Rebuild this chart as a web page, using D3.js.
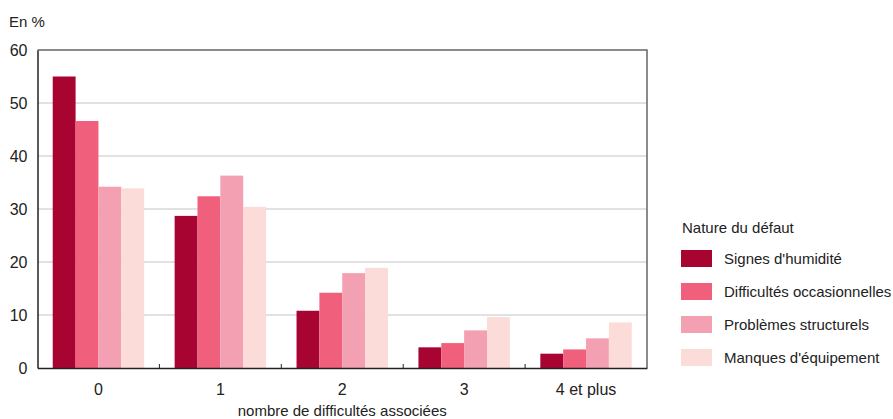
<!DOCTYPE html>
<html>
<head>
    <meta charset="utf-8">
    <title>Nature du défaut</title>
    <script src="https://cdn.jsdelivr.net/npm/d3@7"></script>
    <style>
        body { margin: 0; background: #fff; }
        svg text { font-family: "Liberation Sans", Arial, sans-serif; fill: #222; }
    </style>
</head>
<body>
    <div id="chart"></div>
    <script>
        const categories = ["0", "1", "2", "3", "4 et plus"];
        const seriesNames = ["Signes d'humidité", "Difficultés occasionnelles", "Problèmes structurels", "Manques d'équipement"];
        const humidite = [55.0, 28.7, 10.8, 3.9, 2.7];
        const occasionnelles = [46.6, 32.4, 14.2, 4.7, 3.5];
        const structurels = [34.2, 36.3, 17.9, 7.1, 5.6];
        const equipement = [33.9, 30.4, 18.9, 9.6, 8.6];
        const yTicks = [0, 10, 20, 30, 40, 50, 60];
        const colors = ["#a80432", "#f05f7c", "#f4a0b3", "#fbdcd9"];

        const seriesValues = [humidite, occasionnelles, structurels, equipement];

        const W = 893, H = 419;
        const margin = { top: 50, left: 37.5, right: 246, bottom: 51 };
        const width = W - margin.left - margin.right;
        const height = H - margin.top - margin.bottom;

        const svg = d3.select("#chart").append("svg")
            .attr("width", W)
            .attr("height", H);

        const g = svg.append("g")
            .attr("transform", `translate(${margin.left},${margin.top})`);

        const x = d3.scaleBand()
            .domain(categories)
            .range([0, width])
            .paddingInner(0.25)
            .paddingOuter(0.125);

        const x1 = d3.scaleBand()
            .domain(seriesNames)
            .range([0, x.bandwidth()]);

        const y = d3.scaleLinear()
            .domain([0, 60])
            .range([height, 0]);

        // gridlines
        g.append("g")
            .selectAll("line")
            .data(yTicks.filter(t => t > 0 && t < 60))
            .enter().append("line")
            .attr("x1", 0)
            .attr("x2", width)
            .attr("y1", d => y(d))
            .attr("y2", d => y(d))
            .attr("stroke", "#c4c4c4")
            .attr("stroke-width", 1);

        // frame top + right
        g.append("path")
            .attr("d", `M0,${y(60)}H${width}V${height}`)
            .attr("fill", "none")
            .attr("stroke", "#666")
            .attr("stroke-width", 1.5);

        // bars
        const rows = categories.map((c, i) => ({ cat: c, vals: seriesValues.map(s => s[i]) }));
        g.append("g")
            .selectAll("g")
            .data(rows)
            .enter().append("g")
            .attr("transform", d => `translate(${x(d.cat)},0)`)
            .selectAll("rect")
            .data(d => d.vals.map((v, j) => ({ name: seriesNames[j], v: v, j: j })))
            .enter().append("rect")
            .attr("x", d => x1(d.name))
            .attr("width", x1.bandwidth())
            .attr("y", d => y(d.v))
            .attr("height", d => y(0) - y(d.v))
            .attr("fill", d => colors[d.j]);

        // y axis
        const yAxis = g.append("g")
            .call(d3.axisLeft(y).tickValues(yTicks).tickSize(0).tickPadding(10));
        yAxis.select(".domain").attr("stroke", "#222").attr("stroke-width", 1.5);
        yAxis.selectAll("text").style("font-size", "16px").attr("dy", "0.36em");

        // x axis
        const xAxis = g.append("g")
            .attr("transform", `translate(0,${height})`)
            .call(d3.axisBottom(x).tickSize(0).tickPadding(16));
        xAxis.select(".domain").attr("stroke", "#222").attr("stroke-width", 1.5);
        xAxis.selectAll("text").style("font-size", "16px");

        // small ticks between groups, pointing up
        const step = x.step();
        g.append("g")
            .selectAll("line")
            .data(categories.slice(1))
            .enter().append("line")
            .attr("x1", d => x(d) - step * 0.125)
            .attr("x2", d => x(d) - step * 0.125)
            .attr("y1", height)
            .attr("y2", height - 4)
            .attr("stroke", "#222")
            .attr("stroke-width", 1);

        // titles
        svg.append("text")
            .attr("x", 9)
            .attr("y", 27)
            .style("font-size", "15px")
            .text("En %");

        svg.append("text")
            .attr("x", margin.left + width / 2)
            .attr("y", 416)
            .attr("text-anchor", "middle")
            .style("font-size", "15px")
            .text("nombre de difficultés associées");

        // legend
        const legend = svg.append("g").attr("transform", "translate(681,0)");
        legend.append("text")
            .attr("x", 1)
            .attr("y", 233)
            .style("font-size", "15px")
            .text("Nature du défaut");

        const item = legend.selectAll("g.item")
            .data(seriesNames)
            .enter().append("g")
            .attr("class", "item")
            .attr("transform", (d, i) => `translate(0,${250 + i * 33})`);
        item.append("rect")
            .attr("width", 31)
            .attr("height", 17)
            .attr("fill", (d, i) => colors[i]);
        item.append("text")
            .attr("x", 43)
            .attr("y", 14)
            .style("font-size", "15px")
            .text(d => d);
    </script>
</body>
</html>
